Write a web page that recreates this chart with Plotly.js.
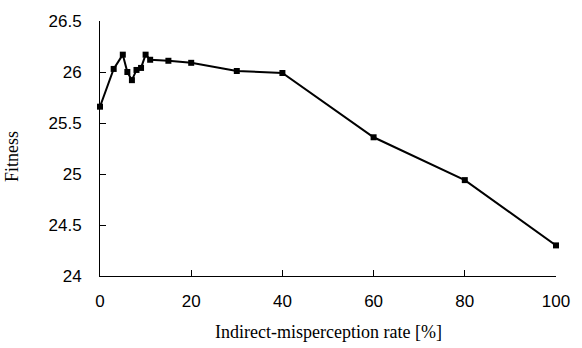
<!DOCTYPE html>
<html>
<head>
<meta charset="utf-8">
<script src="https://cdn.plot.ly/plotly-3.0.1.min.js"></script>
<style>html,body{margin:0;padding:0;background:#fff;}#chart{width:582px;height:348px;}</style>
</head>
<body>
<div id="chart"></div>
<script>
var rates = [0, 3, 5, 6, 7, 8, 9, 10, 11, 15, 20, 30, 40, 60, 80, 100];
var fitness = [25.66, 26.03, 26.17, 26.00, 25.92, 26.02, 26.04, 26.17, 26.12, 26.11, 26.09, 26.01, 25.99, 25.36, 24.94, 24.30];
var xTicks = [0, 20, 40, 60, 80, 100];
var yTicks = [24, 24.5, 25, 25.5, 26, 26.5];
var yTickText = ['24', '24.5', '25', '25.5', '26', '26.5'];
var xTitle = 'Indirect-misperception rate [%]';
var yTitle = 'Fitness';

var serif = '"Liberation Serif", "Times New Roman", serif';
var trace = {
  x: rates, y: fitness, type: 'scatter', mode: 'lines+markers',
  line: {color: '#000', width: 2},
  marker: {symbol: 'square', size: 6, color: '#000'},
  showlegend: false, cliponaxis: false
};
var layout = {
  width: 582, height: 348,
  margin: {l: 100, r: 26, t: 21, b: 72},
  paper_bgcolor: '#fff', plot_bgcolor: '#fff',
  font: {family: '"Liberation Sans", Arial, sans-serif', size: 17, color: '#000'},
  xaxis: {
    range: [0, 100], tickvals: xTicks, ticktext: xTicks.map(String),
    showgrid: false, zeroline: false, showline: true, linecolor: '#000', linewidth: 1,
    ticks: 'inside', ticklen: 6, tickcolor: '#000', tickwidth: 1,
    ticklabelstandoff: 10
  },
  yaxis: {
    range: [24, 26.5], tickvals: yTicks, ticktext: yTickText,
    showgrid: false, zeroline: false, showline: true, linecolor: '#000', linewidth: 1,
    ticks: 'inside', ticklen: 6, tickcolor: '#000', tickwidth: 1,
    ticklabelstandoff: 14
  },
  annotations: [
    {text: xTitle, xref: 'paper', yref: 'paper', x: 0.5, y: -(332 - 276) / 255,
     xanchor: 'center', yanchor: 'middle', showarrow: false,
     font: {family: serif, size: 18, color: '#000'}},
    {text: yTitle, xref: 'paper', yref: 'paper', x: -(100 - 12) / 456, y: (276 - 157) / 255,
     xanchor: 'center', yanchor: 'middle', showarrow: false, textangle: -90,
     font: {family: serif, size: 18, color: '#000'}}
  ]
};
Plotly.newPlot('chart', [trace], layout, {displayModeBar: false, staticPlot: true});
</script>
</body>
</html>
